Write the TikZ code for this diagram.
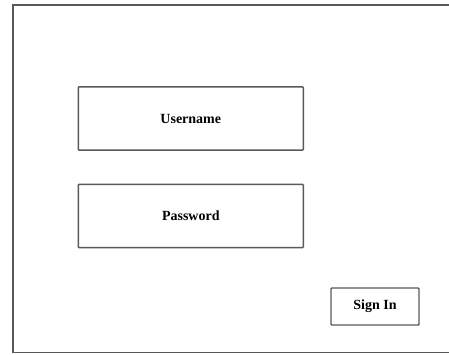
\documentclass[tikz,border=0pt]{standalone}
\usepackage{fontspec}
\setmainfont{Liberation Serif}
\begin{document}
\begin{tikzpicture}[x=0.75pt,y=-0.75pt,
  field/.style={draw=black!65,line width=1.1pt,rounded corners=0.6pt,inner sep=0pt,
    minimum width=168.75pt,minimum height=47.5pt,font=\bfseries\fontsize{10.5}{12}\selectfont},
  btn/.style={draw=black!65,line width=1.1pt,rounded corners=0.6pt,inner sep=0pt,
    minimum width=66pt,minimum height=27.75pt,font=\bfseries\fontsize{10.5}{12}\selectfont}]
\useasboundingbox (0,0) rectangle (449,354);
\draw[black!65,line width=1pt] (452,5) -- (13,5) -- (13,352.5) -- (452,352.5);
\node[field] (user) at (190.8,118.5) {Username};
\node[field] (pass) at (190.8,216) {Password};
\node[btn] (signin) at (375,306.5) {Sign In};
\end{tikzpicture}
\end{document}
